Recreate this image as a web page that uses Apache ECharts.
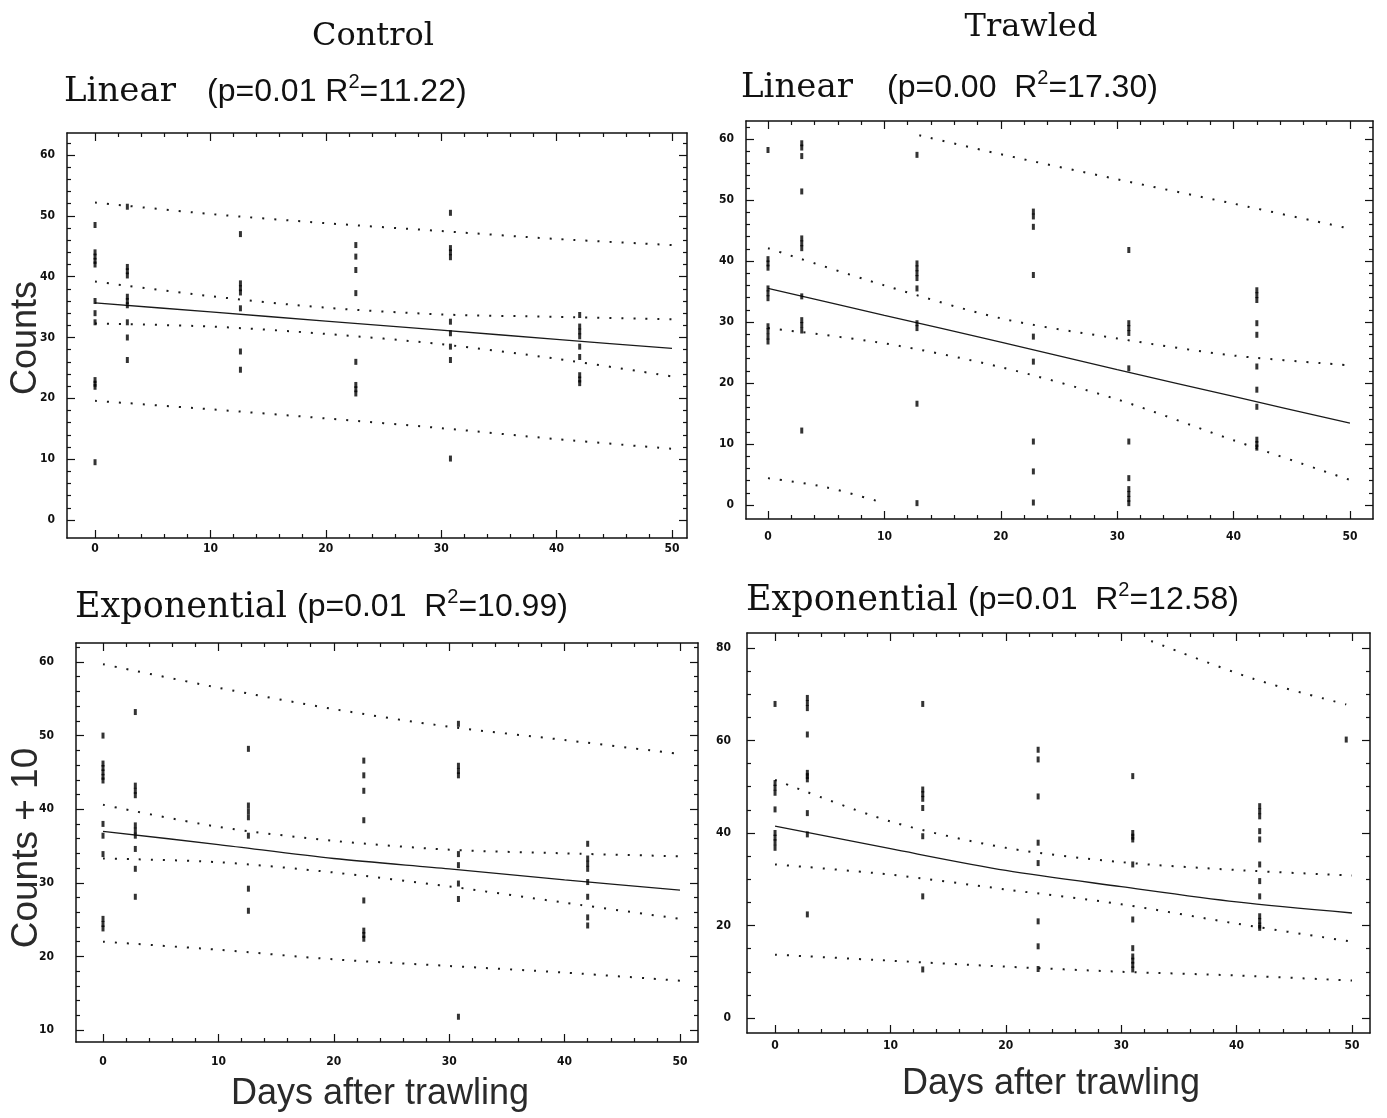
<!DOCTYPE html>
<html><head><meta charset="utf-8">
<script src="https://cdn.jsdelivr.net/npm/echarts@6/dist/echarts.min.js"></script>
<style>html,body{margin:0;padding:0;background:#fff}#c{width:1387px;height:1118px}</style>
</head><body><div id="c"></div>
<script>
// ---------------- data ----------------
const xTicks = [0, 10, 20, 30, 40, 50];
const xMinor = [2,4,6,8,12,14,16,18,22,24,26,28,32,34,36,38,42,44,46,48];
const yTicksLin = [0, 10, 20, 30, 40, 50, 60];
const yMinorLin = [2,4,6,8,12,14,16,18,22,24,26,28,32,34,36,38,42,44,46,48,52,54,56,58,62];
const yTicksCtrlExp = [10, 20, 30, 40, 50, 60];
const yMinorCtrlExp = [12,14,16,18,22,24,26,28,32,34,36,38,42,44,46,48,52,54,56,58,62];
const yTicksTrwExp = [0, 20, 40, 60, 80];
const yMinorTrwExp = [5,10,15,25,30,35,45,50,55,65,70,75];

const curveDays = [0, 10, 20, 30, 40, 50];

// Control, linear (Counts)
const ctrlDays = [0, 2.8, 12.6, 22.6, 30.8, 42];
const ctrlLinCounts = [
  [48.5, 44, 43.3, 42.6, 42, 36, 34, 32.5, 23, 22.4, 21.9, 9.5],
  [51.5, 41.6, 40.9, 40.2, 36.7, 36, 35.3, 32.5, 30, 26.3],
  [47, 38.9, 38.1, 37.4, 34.8, 27.7, 24.7],
  [45.2, 43.3, 41.1, 37.3, 26, 22.2, 21.5, 20.8],
  [50.5, 44.7, 44, 43.2, 32.6, 30.7, 28.5, 26.3, 10.1],
  [33.7, 31.8, 31, 30.2, 28.5, 26.8, 23.8, 23.1, 22.5]
];
const ctrlLinFit  = [35.7, 34.2, 32.7, 31.2, 29.7, 28.2];
const ctrlLinCIUp = [39.2, 36.8, 34.9, 33.8, 33.4, 33.0];
const ctrlLinCILo = [32.3, 31.8, 30.6, 28.9, 26.5, 23.6];
const ctrlLinPIUp = [52.2, 50.3, 48.8, 47.5, 46.2, 45.2];
const ctrlLinPILo = [19.6, 18.2, 16.7, 15.1, 13.3, 11.7];

// Trawled, linear (Counts)
const trwDays = [0, 2.9, 12.8, 22.8, 31, 42];
const trwLinCounts = [
  [58.2, 40.3, 39.6, 38.9, 35.5, 34.7, 33.9, 29.3, 28.5, 27.6, 26.8],
  [59.3, 58.6, 57.2, 51.4, 43.7, 42.9, 42.1, 34.2, 30.3, 29.5, 28.6, 12.2],
  [57.4, 39.6, 38.8, 38, 37.2, 35.5, 29.8, 29, 16.6, 0.3],
  [48.1, 47.3, 45.6, 37.7, 27.6, 23.5, 10.4, 5.5, 0.4],
  [41.8, 29.8, 29, 28.2, 22.4, 10.4, 4.4, 2.6, 1.8, 1, 0.3],
  [35.2, 34.4, 33.6, 29.8, 27.9, 22.7, 18.9, 16.1, 10.7, 10, 9.4]
];
const trwLinFit  = [35.5, 31.1, 26.7, 22.2, 17.8, 13.4];
const trwLinCIUp = [42.1, 36.0, 30.6, 27.3, 24.5, 22.9];
const trwLinCILo = [29.0, 26.5, 22.6, 17.3, 10.6, 4.1];
const trwLinPIUpDays = [13, 20, 30, 40, 49.5];
const trwLinPIUp = [60.6, 57.5, 53.4, 49.4, 45.5];
const trwLinPILoDays = [0, 5, 10];
const trwLinPILo = [4.4, 2.9, 0.3];

// Control, exponential (Counts + 10)
const ctrlExpCounts = [
  [50, 46.2, 45.6, 45, 44.4, 43.9, 38, 36.4, 33.9, 25.1, 24.4, 23.8],
  [53.2, 43.2, 42.5, 41.9, 37.8, 37.1, 36.4, 34.6, 31.9, 28.1],
  [48.2, 40.5, 39.7, 38.9, 36.4, 29.2, 26.2],
  [46.6, 44.6, 42.5, 38.5, 27.6, 23.5, 22.9, 22.4],
  [51.6, 45.9, 45.2, 44.6, 33.9, 32.4, 29.9, 27.8, 11.8],
  [35.3, 33.3, 32.6, 31.9, 30.1, 28.1, 25.3, 24.2]
];
const ctrlExpFit  = [37.0, 35.2, 33.3, 31.9, 30.4, 29.0];
const ctrlExpCIUp = [40.6, 37.6, 35.7, 34.5, 34.0, 33.6];
const ctrlExpCILo = [33.3, 32.8, 31.4, 29.5, 27.3, 25.1];
const ctrlExpPIUp = [59.7, 56.5, 53.6, 51.2, 49.4, 47.5];
const ctrlExpPILo = [22.0, 20.9, 19.6, 18.7, 17.8, 16.7];

// Trawled, exponential (Counts + 10)
const trwExpDays = [0, 2.8, 12.8, 22.8, 31, 42, 49.5];
const trwExpCounts = [
  [67.9, 50.8, 49.8, 48.7, 45.1, 40, 39, 38, 36.8],
  [69.2, 68.1, 67, 61.3, 53, 52.3, 51.6, 44.3, 39.7, 22.4],
  [67.9, 49.4, 48.4, 47.4, 45.4, 39.3, 26.3, 10.5],
  [58, 55.9, 47.9, 37.9, 33.5, 20.9, 15.5, 10.6],
  [52.3, 40, 39.2, 38.6, 33.2, 21.3, 15.1, 13.3, 12.4, 11.5, 10.5],
  [45.8, 44.7, 43.6, 40.4, 38.6, 33.2, 29.6, 26.3, 22, 21, 20, 19.5],
  [60.2]
];
const trwExpFit  = [41.5, 36.6, 31.9, 28.4, 25.1, 22.7];
const trwExpCIUp = [51.5, 42.5, 36.8, 33.7, 32.0, 30.8];
const trwExpCILo = [33.2, 31.0, 27.8, 24.6, 20.4, 16.5];
const trwExpPIUpDays = [32.6, 41.5, 49.5];
const trwExpPIUp = [81.5, 73.3, 67.8];
const trwExpPILo = [13.7, 12.4, 11.1, 10.0, 9.2, 8.1];

// ---------------- helpers ----------------
function pointsOf(days, groups) {
  const out = [];
  groups.forEach((g, i) => g.forEach(v => out.push([days[i], v])));
  return out;
}
function curveOf(xs, ys) { return xs.map((x, i) => [x, ys[i]]); }

const INK = '#111';
const tickFont = { fontSize: 12, fontWeight: 'bold', fontFamily: '"Liberation Sans Narrow", "DejaVu Sans Condensed", sans-serif', color: INK };

const panels = [
  { grid: { left: 67, top: 133, width: 620, height: 405 }, x: [-2.43, 51.3], y: [-2.96, 63.62],
    yTicks: yTicksLin, yMinor: yMinorLin, xMargin: 5, yMargin: 12,
    pts: pointsOf(ctrlDays, ctrlLinCounts),
    fit: curveOf(curveDays, ctrlLinFit),
    dotted: [curveOf(curveDays, ctrlLinCIUp), curveOf(curveDays, ctrlLinCILo), curveOf(curveDays, ctrlLinPIUp), curveOf(curveDays, ctrlLinPILo)] },
  { grid: { left: 746, top: 121, width: 627, height: 398 }, x: [-1.89, 51.98], y: [-2.3, 62.95],
    yTicks: yTicksLin, yMinor: yMinorLin, xMargin: 12, yMargin: 12,
    pts: pointsOf(trwDays, trwLinCounts),
    fit: curveOf(curveDays, trwLinFit),
    dotted: [curveOf(curveDays, trwLinCIUp), curveOf(curveDays, trwLinCILo), curveOf(trwLinPIUpDays, trwLinPIUp), curveOf(trwLinPILoDays, trwLinPILo)] },
  { grid: { left: 76, top: 643, width: 622, height: 399 }, x: [-2.34, 51.56], y: [8.37, 62.58],
    yTicks: yTicksCtrlExp, yMinor: yMinorCtrlExp, xMargin: 14, yMargin: 22,
    pts: pointsOf(ctrlDays, ctrlExpCounts),
    fit: curveOf(curveDays, ctrlExpFit),
    dotted: [curveOf(curveDays, ctrlExpCIUp), curveOf(curveDays, ctrlExpCILo), curveOf(curveDays, ctrlExpPIUp), curveOf(curveDays, ctrlExpPILo)] },
  { grid: { left: 747, top: 633, width: 623, height: 400 }, x: [-2.43, 51.56], y: [-3.24, 83.24],
    yTicks: yTicksTrwExp, yMinor: yMinorTrwExp, xMargin: 7, yMargin: 16,
    pts: pointsOf(trwExpDays, trwExpCounts),
    fit: curveOf(curveDays, trwExpFit),
    dotted: [curveOf(curveDays, trwExpCIUp), curveOf(curveDays, trwExpCILo), curveOf(trwExpPIUpDays, trwExpPIUp), curveOf(curveDays, trwExpPILo)] }
];

const grids = [], xAxes = [], yAxes = [], series = [];
function axisDef(p, pos, range, ticks, len, line, label, margin) {
  return {
    type: 'value', gridIndex: p, position: pos, min: range[0], max: range[1],
    axisLine: { show: line, onZero: false, lineStyle: { color: INK, width: 1.5 } },
    axisTick: { show: true, inside: true, length: len, customValues: ticks, lineStyle: { color: INK, width: 1.2 } },
    axisLabel: label ? Object.assign({ show: true, customValues: ticks, margin: margin }, tickFont) : { show: false },
    splitLine: { show: false }, minorTick: { show: false }
  };
}
panels.forEach((P, p) => {
  grids.push(Object.assign({ containLabel: false, outerBoundsMode: 'none' }, P.grid));
  const base = xAxes.length;
  xAxes.push(axisDef(p, 'bottom', P.x, xTicks, 8, true, true, P.xMargin));
  xAxes.push(axisDef(p, 'bottom', P.x, xMinor, 4, false, false));
  xAxes.push(axisDef(p, 'top', P.x, xTicks, 8, true, false));
  xAxes.push(axisDef(p, 'top', P.x, xMinor, 4, false, false));
  yAxes.push(axisDef(p, 'left', P.y, P.yTicks, 8, true, true, P.yMargin));
  yAxes.push(axisDef(p, 'left', P.y, P.yMinor, 4, false, false));
  yAxes.push(axisDef(p, 'right', P.y, P.yTicks, 8, true, false));
  yAxes.push(axisDef(p, 'right', P.y, P.yMinor, 4, false, false));
  series.push({ type: 'scatter', xAxisIndex: base, yAxisIndex: base, data: P.pts, symbol: 'rect',
    symbolSize: [3, 6], itemStyle: { color: '#000' }, silent: true, z: 4 });
  series.push({ type: 'line', xAxisIndex: base, yAxisIndex: base, data: P.fit, showSymbol: false, smooth: 0.3,
    lineStyle: { color: '#1a1a1a', width: 1.3 }, silent: true, z: 3 });
  P.dotted.forEach(d => series.push({ type: 'line', xAxisIndex: base, yAxisIndex: base, data: d, showSymbol: false,
    smooth: 0.3, clip: true, lineStyle: { color: '#1a1a1a', width: 2, type: [2, 10] }, silent: true, z: 3 }));
});

const serif = '"DejaVu Serif", serif';
const sans = '"Liberation Sans", Arial, sans-serif';
function word(x, y, text, size, align) {
  return { type: 'text', x: x, y: y, style: { text: text, fontFamily: serif, fontSize: size, fill: INK, align: align || 'left', verticalAlign: 'middle' } };
}
function stat(x, y, pre, post, size) {
  return { type: 'text', x: x, y: y, style: {
    text: '{m|' + pre + '}{s|2}{m|' + post + '}', align: 'left', verticalAlign: 'middle',
    rich: { m: { fontFamily: sans, fontSize: size, fill: INK, lineHeight: 40, verticalAlign: 'middle' },
            s: { fontFamily: sans, fontSize: 20, fill: INK, lineHeight: 26, verticalAlign: 'top' } } } };
}
function axisName(x, y, text, size, rot) {
  return { type: 'text', x: x, y: y, rotation: rot || 0, style: { text: text, fontFamily: sans, fontSize: size, fill: '#2a2a2a', align: 'center', verticalAlign: 'middle' } };
}

const graphics = [
  word(373, 37, 'Control', 32, 'center'),
  word(1031, 28, 'Trawled', 32, 'center'),
  word(64, 92, 'Linear', 34),
  stat(207, 92, '(p=0.01 R', '=11.22)', 32),
  word(741, 88, 'Linear', 34),
  stat(887, 88, '(p=0.00  R', '=17.30)', 32),
  word(75, 608, 'Exponential', 35),
  stat(297, 607, '(p=0.01  R', '=10.99)', 32),
  word(746, 601, 'Exponential', 35),
  stat(968, 600, '(p=0.01  R', '=12.58)', 32),
  axisName(26, 338, 'Counts', 36, Math.PI / 2),
  axisName(27, 848, 'Counts + 10', 37, Math.PI / 2),
  axisName(380, 1094, 'Days after trawling', 36),
  axisName(1051, 1084, 'Days after trawling', 36)
];

const chart = echarts.init(document.getElementById('c'), null, { renderer: 'canvas' });
chart.setOption({
  animation: false,
  backgroundColor: '#fff',
  grid: grids, xAxis: xAxes, yAxis: yAxes, series: series,
  graphic: graphics
});
</script></body></html>
